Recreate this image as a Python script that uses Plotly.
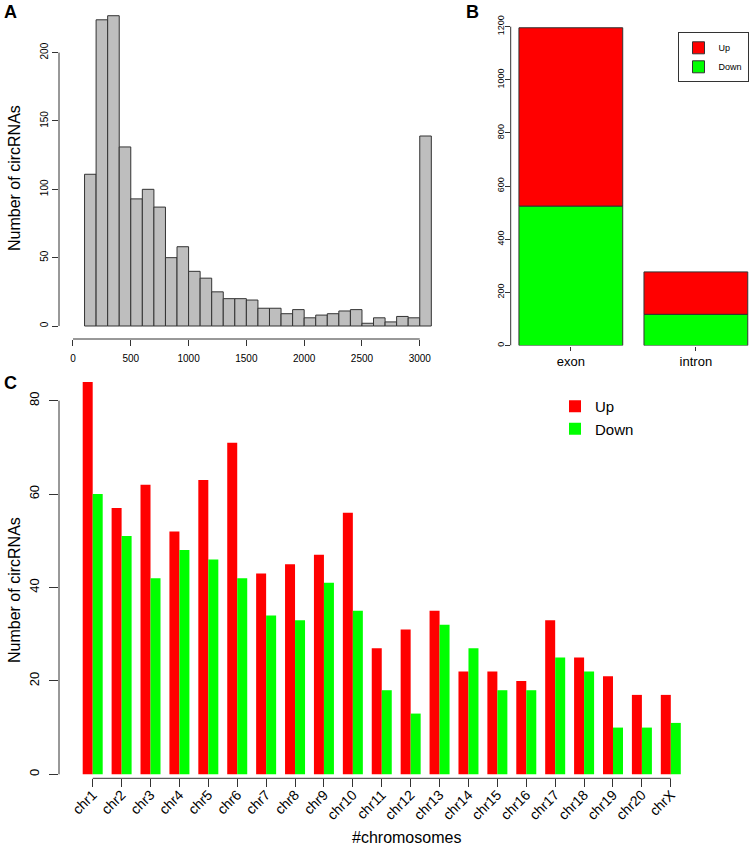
import plotly.graph_objects as go

# ---------------- data ----------------
# Panel A: histogram of circRNA lengths (bin left edges, width 100)
hist_bin_left = [100, 200, 300, 400, 500, 600, 700, 800, 900, 1000,
                 1100, 1200, 1300, 1400, 1500, 1600, 1700, 1800, 1900, 2000,
                 2100, 2200, 2300, 2400, 2500, 2600, 2700, 2800, 2900, 3000]
hist_counts = [111, 224, 227, 131, 93, 100, 87, 50, 58, 40,
               35, 25, 20, 20, 19, 13, 13, 9, 12, 6,
               8, 9, 11, 12, 2, 6, 3, 7, 6, 139]
hist_bin_width = 100
hist_xticks = [0, 500, 1000, 1500, 2000, 2500, 3000]
hist_yticks = [0, 50, 100, 150, 200]

# Panel B: exon / intron stacked
b_categories = ["exon", "intron"]
b_down = [524, 117]
b_up = [672, 160]
b_yticks = [0, 200, 400, 600, 800, 1000, 1200]

# Panel C: per chromosome
chromosomes = ["chr1", "chr2", "chr3", "chr4", "chr5", "chr6", "chr7", "chr8", "chr9", "chr10",
               "chr11", "chr12", "chr13", "chr14", "chr15", "chr16", "chr17", "chr18", "chr19",
               "chr20", "chrX"]
c_up = [84, 57, 62, 52, 63, 71, 43, 45, 47, 56, 27, 31, 35, 22, 22, 20, 33, 25, 21, 17, 17]
c_down = [60, 51, 42, 48, 46, 42, 34, 33, 41, 35, 18, 13, 32, 27, 18, 18, 25, 22, 10, 10, 11]
c_yticks = [0, 20, 40, 60, 80]

RED = "#FF0000"
GREEN = "#00FF00"
AX = "#333333"
FONT = "Liberation Sans, Arial, sans-serif"
W, H = 750, 845


def px_x(p):
    return p / W


def px_y(p):
    return 1 - p / H


fig = go.Figure()

# Panel A
fig.add_trace(go.Bar(x=hist_bin_left, y=hist_counts, offset=0, width=hist_bin_width,
                     marker=dict(color="#BEBEBE", line=dict(color=AX, width=1)),
                     showlegend=False, xaxis="x", yaxis="y"))

# Panel B
fig.add_trace(go.Bar(x=b_categories, y=b_up, base=b_down, offset=-0.415, width=0.83,
                     name="Up", marker=dict(color=RED, line=dict(color=AX, width=1)),
                     xaxis="x2", yaxis="y2", legend="legend"))
fig.add_trace(go.Bar(x=b_categories, y=b_down, offset=-0.415, width=0.83,
                     name="Down", marker=dict(color=GREEN, line=dict(color=AX, width=1)),
                     xaxis="x2", yaxis="y2", legend="legend"))

# Panel C
fig.add_trace(go.Bar(x=chromosomes, y=c_up, offset=-0.346, width=0.346,
                     name="Up", marker=dict(color=RED, line=dict(color="#333333", width=0)),
                     xaxis="x3", yaxis="y3", legend="legend2"))
fig.add_trace(go.Bar(x=chromosomes, y=c_down, offset=0, width=0.346,
                     name="Down", marker=dict(color=GREEN, line=dict(color="#333333", width=0)),
                     xaxis="x3", yaxis="y3", legend="legend2"))

common = dict(showgrid=False, zeroline=False, showline=False, ticks="outside",
              tickcolor=AX, tickwidth=1, fixedrange=True)

A_dom_x = [px_x(59), px_x(446)]
A_dom_y = [px_y(339), px_y(3)]
B_dom_x = [px_x(510.7), 1.0]
B_dom_y = [px_y(345.5), px_y(10)]
C_dom_x = [px_x(59), 1.0]
C_dom_y = [px_y(778.3), px_y(375)]

fig.update_layout(
    width=W, height=H, margin=dict(l=0, r=0, t=0, b=0),
    paper_bgcolor="white", plot_bgcolor="white",
    font=dict(family=FONT, color="#000000"),
    barmode="overlay",
    xaxis=dict(domain=A_dom_x, range=[-121, 3227], anchor="y", tickvals=hist_xticks,
               ticklen=6, tickfont=dict(size=10), ticklabelstandoff=4, **common),
    yaxis=dict(domain=A_dom_y, range=[-9.5, 236.3], anchor="x", tickvals=hist_yticks,
               ticklen=6, tickangle=-90, tickfont=dict(size=10), **common),
    xaxis2=dict(domain=B_dom_x, range=[-0.481, 1.433], anchor="y2", type="category",
                ticklen=4, tickfont=dict(size=13), **common),
    yaxis2=dict(domain=B_dom_y, range=[0, 1262.8], anchor="x2", tickvals=b_yticks,
                ticklen=5, tickangle=-90, tickfont=dict(size=9), ticklabelstandoff=-3, **common),
    xaxis3=dict(domain=C_dom_x, range=[-1.166, 22.74], anchor="y3", type="category",
                ticklen=8, tickangle=-45, tickfont=dict(size=14), ticklabelstandoff=-6, **common),
    yaxis3=dict(domain=C_dom_y, range=[-0.86, 85.5], anchor="x3", tickvals=c_yticks,
                ticklen=9, tickangle=-90, tickfont=dict(size=13), ticklabelstandoff=5, **common),
    legend=dict(x=px_x(748.5), y=px_y(32.3), xanchor="right", yanchor="top",
                bordercolor=AX, borderwidth=1, bgcolor="white",
                font=dict(size=9), traceorder="normal"),
    legend2=dict(x=px_x(555), y=px_y(390), xanchor="left", yanchor="top",
                 borderwidth=0, bgcolor="rgba(0,0,0,0)",
                 font=dict(size=15), traceorder="normal"),
)

# R-style axis lines spanning only the tick range
shapes = [
    dict(type="line", xref="x", yref="paper", x0=min(hist_xticks), x1=max(hist_xticks),
         y0=A_dom_y[0], y1=A_dom_y[0], line=dict(color=AX, width=1)),
    dict(type="line", xref="paper", yref="y", x0=A_dom_x[0], x1=A_dom_x[0],
         y0=min(hist_yticks), y1=max(hist_yticks), line=dict(color=AX, width=1)),
    dict(type="line", xref="paper", yref="y2", x0=B_dom_x[0], x1=B_dom_x[0],
         y0=min(b_yticks), y1=max(b_yticks), line=dict(color=AX, width=1)),
    dict(type="line", xref="x3", yref="paper", x0=0, x1=len(chromosomes) - 1,
         y0=C_dom_y[0], y1=C_dom_y[0], line=dict(color=AX, width=1)),
    dict(type="line", xref="paper", yref="y3", x0=C_dom_x[0], x1=C_dom_x[0],
         y0=min(c_yticks), y1=max(c_yticks), line=dict(color=AX, width=1)),
]
fig.update_layout(shapes=shapes)

ctr = dict(xref="paper", yref="paper", showarrow=False, xanchor="center", yanchor="middle")
ann = [
    dict(text="<b>A</b>", x=px_x(10), y=px_y(12), font=dict(size=18), **ctr),
    dict(text="<b>B</b>", x=px_x(472), y=px_y(12), font=dict(size=18), **ctr),
    dict(text="<b>C</b>", x=px_x(10), y=px_y(383), font=dict(size=18), **ctr),
    dict(text="Number of circRNAs", x=px_x(14), y=px_y(178), textangle=-90,
         font=dict(size=16), **ctr),
    dict(text="Number of circRNAs", x=px_x(14), y=px_y(590), textangle=-90,
         font=dict(size=16), **ctr),
    dict(text="#chromosomes", x=px_x(406), y=px_y(837), font=dict(size=16), **ctr),
]
fig.update_layout(annotations=ann)

fig.write_html("out.html", config={"displayModeBar": False},
               post_script="document.body.style.margin='0';document.body.style.padding='0';")
